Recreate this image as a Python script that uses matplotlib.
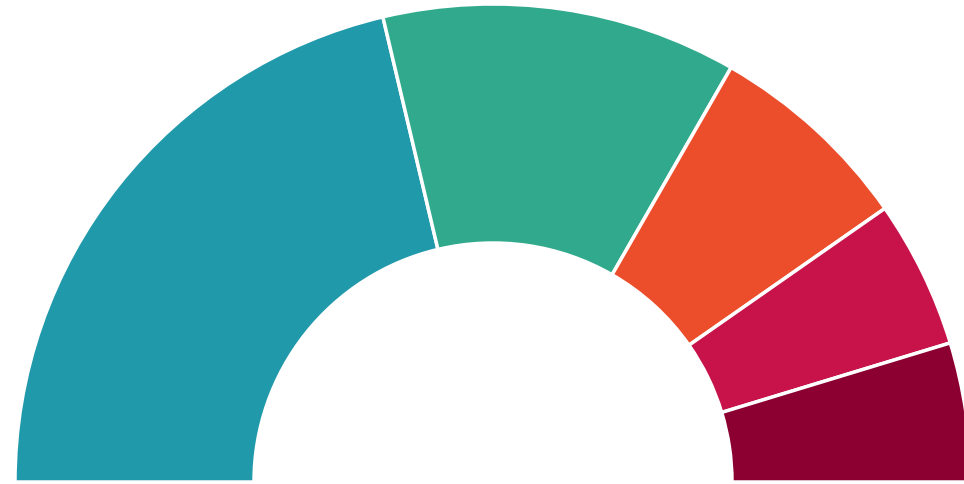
import matplotlib
matplotlib.use("Agg")
import matplotlib.pyplot as plt

labels = ["A", "B", "C", "D", "E"]
values = [42.6, 24.0, 14.0, 10.0, 9.4]
colors = ["#2099ab", "#31a98c", "#ec4e2c", "#c7134a", "#8c0031"]

fig = plt.figure(figsize=(9.64, 4.84), dpi=100)
ax = fig.add_axes([0, 0, 1, 1])

# hidden wedge fills the lower half so the visible part is a half ring
vals = values + [sum(values)]
cols = colors + ["none"]
wedges, _ = ax.pie(vals, colors=cols, startangle=180, counterclock=False,
                   radius=1.0, wedgeprops=dict(width=0.5, edgecolor="white", linewidth=2.5))
wedges[-1].set_visible(False)

ax.set_aspect("equal")
ax.set_xlim(-493 / 478, 471 / 478)
ax.set_ylim(-2 / 478, 482 / 478)
ax.axis("off")

fig.savefig("out.png", dpi=100)
plt.close(fig)
